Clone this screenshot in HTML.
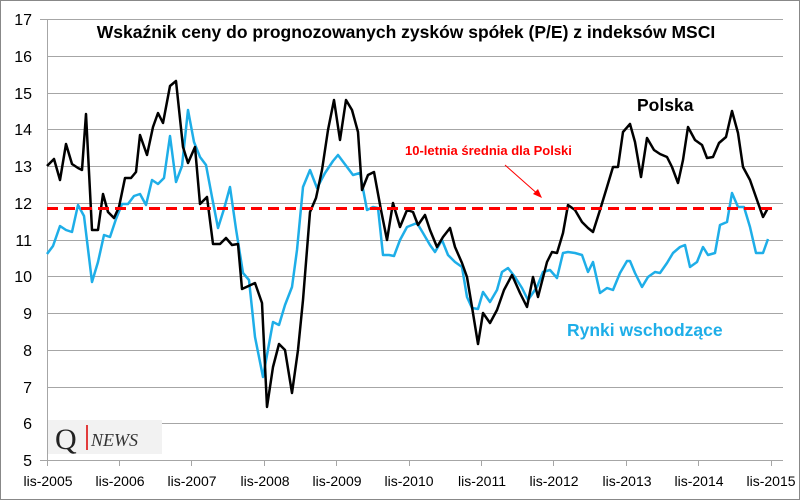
<!DOCTYPE html>
<html><head><meta charset="utf-8"><style>
html,body{margin:0;padding:0;background:#fff}
svg{display:block;font-family:"Liberation Sans",Calibri,sans-serif}
</style></head><body>
<svg width="800" height="500" viewBox="0 0 800 500" xmlns="http://www.w3.org/2000/svg">
<rect x="0.5" y="0.5" width="799" height="499" fill="#fff" stroke="#888"/>
<g stroke="#a6a6a6" stroke-width="1">
<line x1="47" y1="19.5" x2="783" y2="19.5"/>
<line x1="47" y1="56.5" x2="783" y2="56.5"/>
<line x1="47" y1="93.5" x2="783" y2="93.5"/>
<line x1="47" y1="129.5" x2="783" y2="129.5"/>
<line x1="47" y1="166.5" x2="783" y2="166.5"/>
<line x1="47" y1="203.5" x2="783" y2="203.5"/>
<line x1="47" y1="240.5" x2="783" y2="240.5"/>
<line x1="47" y1="276.5" x2="783" y2="276.5"/>
<line x1="47" y1="313.5" x2="783" y2="313.5"/>
<line x1="47" y1="350.5" x2="783" y2="350.5"/>
<line x1="47" y1="387.5" x2="783" y2="387.5"/>
<line x1="47" y1="423.5" x2="783" y2="423.5"/>
<line x1="40" y1="460.5" x2="783" y2="460.5"/>
<line x1="47.5" y1="19" x2="47.5" y2="460"/>
<line x1="47.5" y1="460" x2="47.5" y2="466"/><line x1="119.5" y1="460" x2="119.5" y2="466"/>
<line x1="191.5" y1="460" x2="191.5" y2="466"/><line x1="264.5" y1="460" x2="264.5" y2="466"/>
<line x1="336.5" y1="460" x2="336.5" y2="466"/><line x1="409.5" y1="460" x2="409.5" y2="466"/>
<line x1="481.5" y1="460" x2="481.5" y2="466"/><line x1="553.5" y1="460" x2="553.5" y2="466"/>
<line x1="626.5" y1="460" x2="626.5" y2="466"/><line x1="698.5" y1="460" x2="698.5" y2="466"/>
<line x1="771.5" y1="460" x2="771.5" y2="466"/>
<line x1="40" y1="19.5" x2="47" y2="19.5"/>
</g>
<g font-size="16" fill="#000" text-anchor="end">
<text x="32" y="25">17</text><text x="32" y="62">16</text><text x="32" y="99">15</text>
<text x="32" y="135">14</text><text x="32" y="172">13</text><text x="32" y="209">12</text>
<text x="32" y="246">11</text><text x="32" y="282">10</text><text x="32" y="319">9</text>
<text x="32" y="356">8</text><text x="32" y="393">7</text><text x="32" y="429">6</text>
<text x="32" y="466">5</text>
</g>
<g font-size="14" fill="#000" text-anchor="middle">
<text x="48" y="486">lis-2005</text><text x="120" y="486">lis-2006</text><text x="192" y="486">lis-2007</text>
<text x="265" y="486">lis-2008</text><text x="337" y="486">lis-2009</text><text x="409" y="486">lis-2010</text>
<text x="482" y="486">lis-2011</text><text x="554" y="486">lis-2012</text><text x="627" y="486">lis-2013</text>
<text x="699" y="486">lis-2014</text><text x="771" y="486">lis-2015</text>
</g>
<rect x="48" y="420" width="114" height="34" fill="#f2f2f2"/>
<text x="55" y="449" font-family="Liberation Serif,serif" font-size="30" fill="#222">Q</text>
<line x1="87" y1="425" x2="87" y2="450" stroke="#d00" stroke-width="1.5"/>
<text x="91" y="446" font-family="Liberation Serif,serif" font-style="italic" font-size="18" fill="#333">NEWS</text>
<polyline fill="none" stroke="#1eaee8" stroke-width="2.5" stroke-linejoin="round" points="47,254 53,246 60,226 66,230 72,232 78,205 84,216 92,282 98,262 104,235 110,237 116,219 122,204 128,204 134,196 140,194 146,205 152,180 158,184 164,178 170,136 176,182 182,166 188,110 194,142 200,157 206,165 212,197 218,228 224,209 230,187 236,229 243,273 249,280 255,337 263,377 273,322 279,325 285,305 292,287 297,250 303,187 310,170 317,188 325,173 333,161 338,155 347,167 353,175 360,173 367,210 373,207 378,208 383,255 389,255 394,256 400,240 407,227 417,223 423,233 430,245 435,252 442,240 448,255 455,262 462,267 467,297 472,308 478,309 483,292 490,302 497,290 502,272 508,268 515,277 522,288 528,300 537,287 543,272 550,270 557,278 563,253 568,252 575,253 582,255 588,272 593,262 600,293 607,288 613,290 620,273 627,261 630,261 635,273 642,287 648,277 655,272 660,273 667,263 673,253 680,247 685,245 690,267 697,262 703,247 708,255 715,253 720,225 727,222 732,193 738,207 744,207 750,227 756,253 763,253 768,239"/>
<polyline fill="none" stroke="#000" stroke-width="2.5" stroke-linejoin="round" points="47,166 54,159 60,180 66,144 72,164 78,168 82,170 86,114 92,230 98,230 103,194 108,212 114,218 119,207 125,178 131,178 136,172 140,135 147,155 153,127 158,113 163,123 170,86 176,81 183,147 188,163 195,147 200,204 207,197 213,244 220,244 226,238 232,245 238,244 242,289 255,283 262,303 267,407 273,367 279,344 285,350 292,393 298,350 303,300 310,212 316,198 322,170 328,130 334,100 340,140 346,100 352,110 358,132 362,190 368,175 374,172 381,210 387,240 393,203 400,227 407,210 413,212 418,225 425,215 430,230 437,247 443,237 450,228 455,247 462,263 467,277 472,307 478,344 483,313 490,323 497,310 504,290 512,275 520,293 527,307 533,277 538,297 547,262 552,252 557,253 563,233 568,205 575,210 582,222 588,228 593,232 600,210 607,187 613,167 618,167 623,132 630,124 635,142 641,177 647,138 654,150 660,154 667,157 672,167 678,183 683,160 688,127 695,140 702,145 707,158 713,157 719,143 726,137 732,111 738,133 743,167 750,180 757,200 763,217 768,208"/>
<line x1="47" y1="208.5" x2="772" y2="208.5" stroke="#f00" stroke-width="3" stroke-dasharray="11,6"/>
<line x1="505" y1="165" x2="540" y2="196" stroke="#f00" stroke-width="1"/>
<polygon points="542,198 533,194 538,189" fill="#f00"/>
<text x="406" y="38" font-size="17.5" font-weight="bold" text-anchor="middle" fill="#000">Wskaźnik ceny do prognozowanych zysków spółek (P/E) z indeksów MSCI</text>
<text x="637" y="111" font-size="17.5" font-weight="bold" fill="#000">Polska</text>
<text x="405" y="155" font-size="13" font-weight="bold" fill="#f00">10-letnia średnia dla Polski</text>
<text x="567" y="336" font-size="17.5" font-weight="bold" fill="#1eaee8">Rynki wschodzące</text>
</svg>
</body></html>
